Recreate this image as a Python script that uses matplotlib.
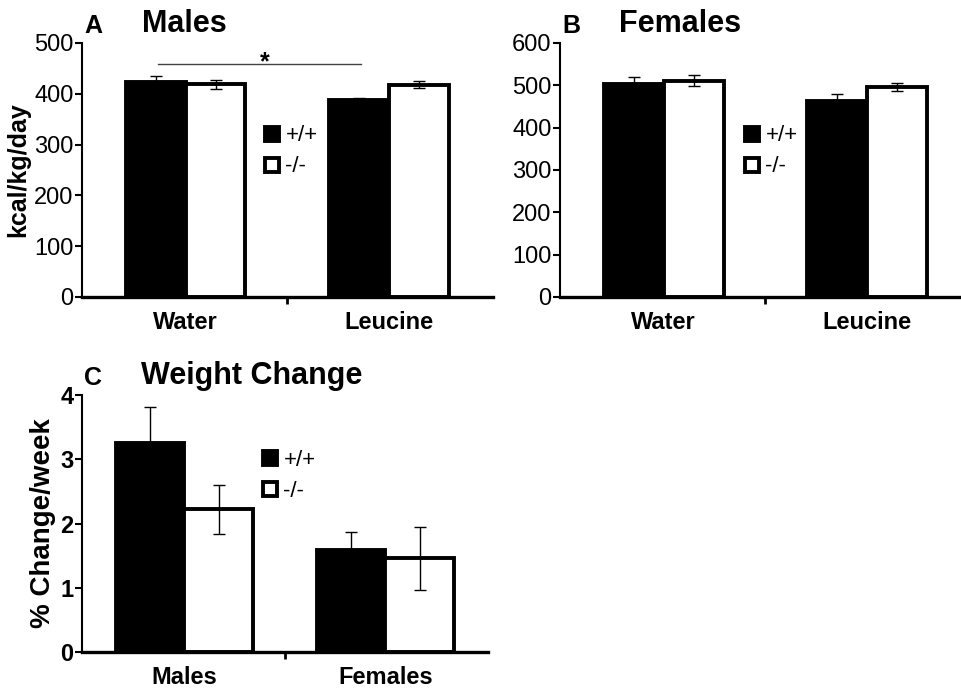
import matplotlib.pyplot as plt
import numpy as np

plt.rcParams['font.family'] = ['Liberation Sans', 'DejaVu Sans']

genotypes = ['+/+', '-/-']
colors = ['black', 'white']

# panel A - males, kcal/kg/day
a_groups = ['Water', 'Leucine']
a_wt = [424, 388]
a_wt_err = [10, 4]
a_ko = [419, 418]
a_ko_err = [9, 7]

# panel B - females, kcal/kg/day
b_groups = ['Water', 'Leucine']
b_wt = [504, 464]
b_wt_err = [16, 16]
b_ko = [511, 496]
b_ko_err = [13, 10]

# panel C - weight change, %/week
c_groups = ['Males', 'Females']
c_wt = [3.25, 1.59]
c_wt_err = [0.56, 0.28]
c_ko = [2.22, 1.46]
c_ko_err = [0.38, 0.49]


def panel(ax, groups, wt, wt_err, ko, ko_err, width, ymax, ystep, letter, title,
          ylabel=None, ylabel_size=18, bold_ticks=False, leg_pos=(0.4, 0.72)):
    x = np.arange(len(groups))
    for i, (vals, errs) in enumerate([(wt, wt_err), (ko, ko_err)]):
        xs = x - width / 2 + i * width
        ax.bar(xs, vals, width, color=colors[i], edgecolor='black',
               linewidth=2.8, label=genotypes[i], zorder=2)
        ax.errorbar(xs, vals, yerr=errs, fmt='none', ecolor='black',
                    elinewidth=1, capsize=4, capthick=1, zorder=3)
    ax.set_xlim(-0.51, 1.51)
    ax.set_ylim(0, ymax)
    ax.set_yticks(np.arange(0, ymax + ystep / 2, ystep))
    ax.set_xticks(x)
    ax.set_xticklabels(groups, fontsize=17, fontweight='bold')
    ax.tick_params(axis='x', which='major', length=0, pad=10)
    ax.set_xticks([0.5], minor=True)
    ax.tick_params(axis='x', which='minor', length=5, width=2, direction='out')
    ax.tick_params(axis='y', length=5, width=1.5, direction='out', labelsize=17, pad=1)
    if bold_ticks:
        for t in ax.get_yticklabels():
            t.set_fontweight('bold')
    for s in ['top', 'right']:
        ax.spines[s].set_visible(False)
    ax.spines['bottom'].set_linewidth(2.4)
    ax.spines['left'].set_linewidth(1.5)
    ax.spines['bottom'].set_zorder(4)
    if ylabel:
        ax.set_ylabel(ylabel, fontsize=ylabel_size, fontweight='bold', labelpad=3)
    ax.text(0.005, 1.02, letter, transform=ax.transAxes, fontsize=18,
            fontweight='bold', va='bottom', ha='left')
    ax.text(0.145, 1.015, title, transform=ax.transAxes, fontsize=22,
            fontweight='bold', va='bottom', ha='left')
    ax.legend(loc='upper left', bbox_to_anchor=leg_pos, frameon=False,
              fontsize=16, handlelength=0.6, handleheight=0.6,
              handletextpad=0.3, labelspacing=0.45, borderaxespad=0)


fig = plt.figure(figsize=(9.62, 6.89), dpi=100)
axA = fig.add_axes([0.0852, 0.569, 0.427, 0.3687])
axB = fig.add_axes([0.582, 0.569, 0.427, 0.3687])
axC = fig.add_axes([0.0852, 0.0537, 0.422, 0.373])

panel(axA, a_groups, a_wt, a_wt_err, a_ko, a_ko_err, 0.294, 500, 100, 'A', 'Males',
      ylabel='kcal/kg/day', leg_pos=(0.425, 0.71))
panel(axB, b_groups, b_wt, b_wt_err, b_ko, b_ko_err, 0.295, 600, 100, 'B', 'Females',
      leg_pos=(0.43, 0.71))
panel(axC, c_groups, c_wt, c_wt_err, c_ko, c_ko_err, 0.34, 4, 1, 'C', 'Weight Change',
      ylabel='% Change/week', ylabel_size=20, bold_ticks=True, leg_pos=(0.425, 0.82))

# significance bar in panel A
axA.plot([-0.137, 0.863], [459, 459], color='#444444', linewidth=1, zorder=1)
axA.text(0.387, 448, '*', ha='center', va='baseline', fontsize=18, fontweight='bold')

fig.savefig('out.png', dpi=100)
